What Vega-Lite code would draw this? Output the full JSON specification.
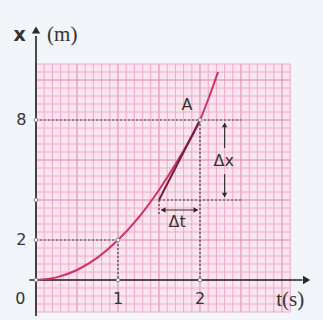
{
  "$schema": "https://vega.github.io/schema/vega-lite/v6.json",
  "width": 323,
  "height": 320,
  "padding": 0,
  "autosize": {"type": "fit", "contains": "padding"},
  "background": "#f2f5f9",
  "config": {"view": {"stroke": null}},
  "datasets": {
    "paper": [{"t": 0, "x": -1.6, "t2": 3.1, "x2": 10.8}],
    "grid": [
      {"t": 0.0, "x": -1.6, "t2": 0.0, "x2": 10.8, "kind": "major"},
      {"t": 0.1, "x": -1.6, "t2": 0.1, "x2": 10.8, "kind": "minor"},
      {"t": 0.2, "x": -1.6, "t2": 0.2, "x2": 10.8, "kind": "minor"},
      {"t": 0.3, "x": -1.6, "t2": 0.3, "x2": 10.8, "kind": "minor"},
      {"t": 0.4, "x": -1.6, "t2": 0.4, "x2": 10.8, "kind": "minor"},
      {"t": 0.5, "x": -1.6, "t2": 0.5, "x2": 10.8, "kind": "major"},
      {"t": 0.6, "x": -1.6, "t2": 0.6, "x2": 10.8, "kind": "minor"},
      {"t": 0.7, "x": -1.6, "t2": 0.7, "x2": 10.8, "kind": "minor"},
      {"t": 0.8, "x": -1.6, "t2": 0.8, "x2": 10.8, "kind": "minor"},
      {"t": 0.9, "x": -1.6, "t2": 0.9, "x2": 10.8, "kind": "minor"},
      {"t": 1.0, "x": -1.6, "t2": 1.0, "x2": 10.8, "kind": "major"},
      {"t": 1.1, "x": -1.6, "t2": 1.1, "x2": 10.8, "kind": "minor"},
      {"t": 1.2, "x": -1.6, "t2": 1.2, "x2": 10.8, "kind": "minor"},
      {"t": 1.3, "x": -1.6, "t2": 1.3, "x2": 10.8, "kind": "minor"},
      {"t": 1.4, "x": -1.6, "t2": 1.4, "x2": 10.8, "kind": "minor"},
      {"t": 1.5, "x": -1.6, "t2": 1.5, "x2": 10.8, "kind": "major"},
      {"t": 1.6, "x": -1.6, "t2": 1.6, "x2": 10.8, "kind": "minor"},
      {"t": 1.7, "x": -1.6, "t2": 1.7, "x2": 10.8, "kind": "minor"},
      {"t": 1.8, "x": -1.6, "t2": 1.8, "x2": 10.8, "kind": "minor"},
      {"t": 1.9, "x": -1.6, "t2": 1.9, "x2": 10.8, "kind": "minor"},
      {"t": 2.0, "x": -1.6, "t2": 2.0, "x2": 10.8, "kind": "major"},
      {"t": 2.1, "x": -1.6, "t2": 2.1, "x2": 10.8, "kind": "minor"},
      {"t": 2.2, "x": -1.6, "t2": 2.2, "x2": 10.8, "kind": "minor"},
      {"t": 2.3, "x": -1.6, "t2": 2.3, "x2": 10.8, "kind": "minor"},
      {"t": 2.4, "x": -1.6, "t2": 2.4, "x2": 10.8, "kind": "minor"},
      {"t": 2.5, "x": -1.6, "t2": 2.5, "x2": 10.8, "kind": "major"},
      {"t": 2.6, "x": -1.6, "t2": 2.6, "x2": 10.8, "kind": "minor"},
      {"t": 2.7, "x": -1.6, "t2": 2.7, "x2": 10.8, "kind": "minor"},
      {"t": 2.8, "x": -1.6, "t2": 2.8, "x2": 10.8, "kind": "minor"},
      {"t": 2.9, "x": -1.6, "t2": 2.9, "x2": 10.8, "kind": "minor"},
      {"t": 3.0, "x": -1.6, "t2": 3.0, "x2": 10.8, "kind": "major"},
      {"t": 3.1, "x": -1.6, "t2": 3.1, "x2": 10.8, "kind": "minor"},
      {"t": 0, "x": -1.6, "t2": 3.1, "x2": -1.6, "kind": "minor"},
      {"t": 0, "x": -1.2, "t2": 3.1, "x2": -1.2, "kind": "minor"},
      {"t": 0, "x": -0.8, "t2": 3.1, "x2": -0.8, "kind": "minor"},
      {"t": 0, "x": -0.4, "t2": 3.1, "x2": -0.4, "kind": "minor"},
      {"t": 0, "x": 0.0, "t2": 3.1, "x2": 0.0, "kind": "major"},
      {"t": 0, "x": 0.4, "t2": 3.1, "x2": 0.4, "kind": "minor"},
      {"t": 0, "x": 0.8, "t2": 3.1, "x2": 0.8, "kind": "minor"},
      {"t": 0, "x": 1.2, "t2": 3.1, "x2": 1.2, "kind": "minor"},
      {"t": 0, "x": 1.6, "t2": 3.1, "x2": 1.6, "kind": "minor"},
      {"t": 0, "x": 2.0, "t2": 3.1, "x2": 2.0, "kind": "major"},
      {"t": 0, "x": 2.4, "t2": 3.1, "x2": 2.4, "kind": "minor"},
      {"t": 0, "x": 2.8, "t2": 3.1, "x2": 2.8, "kind": "minor"},
      {"t": 0, "x": 3.2, "t2": 3.1, "x2": 3.2, "kind": "minor"},
      {"t": 0, "x": 3.6, "t2": 3.1, "x2": 3.6, "kind": "minor"},
      {"t": 0, "x": 4.0, "t2": 3.1, "x2": 4.0, "kind": "major"},
      {"t": 0, "x": 4.4, "t2": 3.1, "x2": 4.4, "kind": "minor"},
      {"t": 0, "x": 4.8, "t2": 3.1, "x2": 4.8, "kind": "minor"},
      {"t": 0, "x": 5.2, "t2": 3.1, "x2": 5.2, "kind": "minor"},
      {"t": 0, "x": 5.6, "t2": 3.1, "x2": 5.6, "kind": "minor"},
      {"t": 0, "x": 6.0, "t2": 3.1, "x2": 6.0, "kind": "major"},
      {"t": 0, "x": 6.4, "t2": 3.1, "x2": 6.4, "kind": "minor"},
      {"t": 0, "x": 6.8, "t2": 3.1, "x2": 6.8, "kind": "minor"},
      {"t": 0, "x": 7.2, "t2": 3.1, "x2": 7.2, "kind": "minor"},
      {"t": 0, "x": 7.6, "t2": 3.1, "x2": 7.6, "kind": "minor"},
      {"t": 0, "x": 8.0, "t2": 3.1, "x2": 8.0, "kind": "major"},
      {"t": 0, "x": 8.4, "t2": 3.1, "x2": 8.4, "kind": "minor"},
      {"t": 0, "x": 8.8, "t2": 3.1, "x2": 8.8, "kind": "minor"},
      {"t": 0, "x": 9.2, "t2": 3.1, "x2": 9.2, "kind": "minor"},
      {"t": 0, "x": 9.6, "t2": 3.1, "x2": 9.6, "kind": "minor"},
      {"t": 0, "x": 10.0, "t2": 3.1, "x2": 10.0, "kind": "major"},
      {"t": 0, "x": 10.4, "t2": 3.1, "x2": 10.4, "kind": "minor"},
      {"t": 0, "x": 10.8, "t2": 3.1, "x2": 10.8, "kind": "minor"}
    ],
    "curve": [
      {"t": 0.0, "x": 0.0},
      {"t": 0.25, "x": 0.13},
      {"t": 0.5, "x": 0.5},
      {"t": 0.75, "x": 1.12},
      {"t": 1.0, "x": 2.0},
      {"t": 1.25, "x": 3.12},
      {"t": 1.5, "x": 4.5},
      {"t": 1.75, "x": 6.12},
      {"t": 2.0, "x": 8.0},
      {"t": 2.22, "x": 10.4}
    ],
    "tangent": [
      {"t": 1.5, "x": 4.0},
      {"t": 2.0, "x": 8.0}
    ],
    "guides": [
      {"t": 0, "x": 8, "t2": 2.5, "x2": 8},
      {"t": 2, "x": 8, "t2": 2, "x2": 0},
      {"t": 1.5, "x": 4, "t2": 2.5, "x2": 4},
      {"t": 1.5, "x": 4, "t2": 1.5, "x2": 3.2},
      {"t": 0, "x": 2, "t2": 1, "x2": 2},
      {"t": 1, "x": 2, "t2": 1, "x2": 0}
    ],
    "axes": [
      {"t": 0, "x": -1.8, "t2": 0, "x2": 12.2},
      {"t": -0.08, "x": 0, "t2": 3.25, "x2": 0}
    ],
    "arrows": [
      {"t": 2.3, "x": 7.85, "t2": 2.3, "x2": 6.6},
      {"t": 2.3, "x": 5.3, "t2": 2.3, "x2": 4.15},
      {"t": 1.53, "x": 3.5, "t2": 1.97, "x2": 3.5}
    ],
    "heads": [
      {"t": 0, "x": 12.5, "shape": "triangle-up", "size": 70},
      {"t": 3.3, "x": 0, "shape": "triangle-right", "size": 70},
      {"t": 2.3, "x": 7.75, "shape": "triangle-up", "size": 30},
      {"t": 2.3, "x": 4.25, "shape": "triangle-down", "size": 30},
      {"t": 1.55, "x": 3.5, "shape": "triangle-left", "size": 30},
      {"t": 1.95, "x": 3.5, "shape": "triangle-right", "size": 30}
    ],
    "dots": [
      {"t": 0, "x": 0},
      {"t": 0, "x": 2},
      {"t": 0, "x": 4},
      {"t": 0, "x": 8},
      {"t": 1, "x": 0},
      {"t": 2, "x": 0},
      {"t": 1, "x": 2},
      {"t": 2, "x": 8}
    ],
    "ticks": [
      {"t": -0.19, "x": -0.95, "label": "0"},
      {"t": 1.0, "x": -0.95, "label": "1"},
      {"t": 2.0, "x": -0.95, "label": "2"},
      {"t": -0.18, "x": 2.0, "label": "2"},
      {"t": -0.18, "x": 8.0, "label": "8"},
      {"t": 1.84, "x": 8.75, "label": "A"},
      {"t": 2.29, "x": 5.95, "label": "Δx"},
      {"t": 1.72, "x": 2.9, "label": "Δt"}
    ],
    "names": [
      {"t": -0.2, "x": 12.25, "label": "x"}
    ],
    "units": [
      {"t": 0.32, "x": 12.25, "label": "(m)"},
      {"t": 3.1, "x": -1.0, "label": "t(s)"}
    ]
  },
  "encoding": {
    "x": {"type": "quantitative", "scale": {"domain": [-0.439, 3.5], "nice": false, "zero": false}, "axis": null},
    "y": {"type": "quantitative", "scale": {"domain": [-2, 14], "nice": false, "zero": false}, "axis": null}
  },
  "layer": [
    {
      "data": {"name": "paper"},
      "mark": {"type": "rect", "color": "#fbe6ef"},
      "encoding": {"x": {"field": "t"}, "x2": {"field": "t2"}, "y": {"field": "x"}, "y2": {"field": "x2"}}
    },
    {
      "data": {"name": "grid"},
      "mark": {"type": "rule", "strokeWidth": 0.9},
      "encoding": {
        "x": {"field": "t"}, "x2": {"field": "t2"}, "y": {"field": "x"}, "y2": {"field": "x2"},
        "color": {"field": "kind", "type": "nominal", "scale": {"domain": ["minor", "major"], "range": ["#efa3c2", "#d97ba7"]}, "legend": null}
      }
    },
    {
      "data": {"name": "guides"},
      "mark": {"type": "rule", "color": "#4a4a4a", "strokeWidth": 1.2, "strokeDash": [2, 2]},
      "encoding": {"x": {"field": "t"}, "x2": {"field": "t2"}, "y": {"field": "x"}, "y2": {"field": "x2"}}
    },
    {
      "data": {"name": "axes"},
      "mark": {"type": "rule", "color": "#222222", "strokeWidth": 1.6},
      "encoding": {"x": {"field": "t"}, "x2": {"field": "t2"}, "y": {"field": "x"}, "y2": {"field": "x2"}}
    },
    {
      "data": {"name": "arrows"},
      "mark": {"type": "rule", "color": "#333333", "strokeWidth": 1.2},
      "encoding": {"x": {"field": "t"}, "x2": {"field": "t2"}, "y": {"field": "x"}, "y2": {"field": "x2"}}
    },
    {
      "data": {"name": "heads"},
      "mark": {"type": "point", "filled": true, "color": "#2a2a2a", "opacity": 1},
      "encoding": {
        "x": {"field": "t"}, "y": {"field": "x"},
        "shape": {"field": "shape", "type": "nominal", "scale": null},
        "size": {"field": "size", "type": "quantitative", "scale": null}
      }
    },
    {
      "data": {"name": "curve"},
      "mark": {"type": "line", "color": "#d3305f", "strokeWidth": 2, "interpolate": "monotone"},
      "encoding": {"x": {"field": "t"}, "y": {"field": "x"}}
    },
    {
      "data": {"name": "tangent"},
      "mark": {"type": "line", "color": "#6e1f3c", "strokeWidth": 2},
      "encoding": {"x": {"field": "t"}, "y": {"field": "x"}}
    },
    {
      "data": {"name": "dots"},
      "mark": {"type": "point", "filled": true, "fill": "#ffffff", "stroke": "#888888", "strokeWidth": 1, "size": 14, "opacity": 1},
      "encoding": {"x": {"field": "t"}, "y": {"field": "x"}}
    },
    {
      "data": {"name": "ticks"},
      "mark": {"type": "text", "font": "DejaVu Sans", "fontSize": 16, "color": "#333333", "align": "center", "baseline": "middle"},
      "encoding": {"x": {"field": "t"}, "y": {"field": "x"}, "text": {"field": "label"}}
    },
    {
      "data": {"name": "names"},
      "mark": {"type": "text", "font": "DejaVu Sans", "fontSize": 19, "fontWeight": "bold", "color": "#333333", "align": "center", "baseline": "middle"},
      "encoding": {"x": {"field": "t"}, "y": {"field": "x"}, "text": {"field": "label"}}
    },
    {
      "data": {"name": "units"},
      "mark": {"type": "text", "font": "Liberation Serif", "fontSize": 21, "color": "#333333", "align": "center", "baseline": "middle"},
      "encoding": {"x": {"field": "t"}, "y": {"field": "x"}, "text": {"field": "label"}}
    }
  ]
}
